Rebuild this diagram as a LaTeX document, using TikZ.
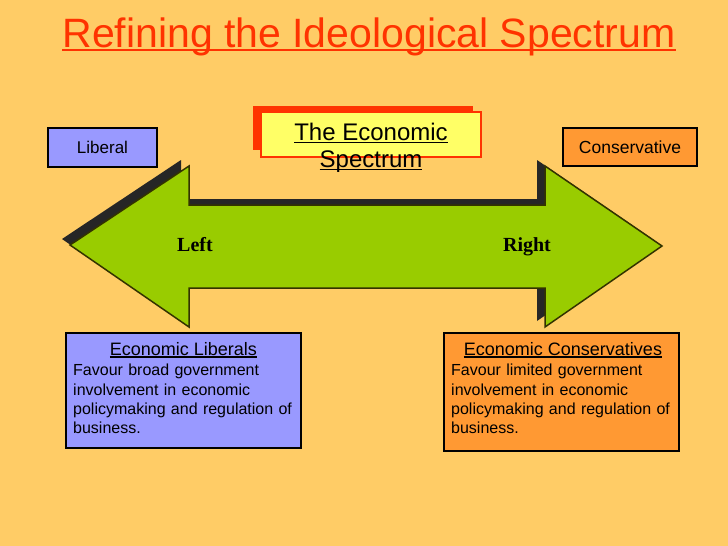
\documentclass[tikz,border=0pt]{standalone}
\usepackage{fontspec}
\setmainfont{Liberation Sans}
\newfontfamily\serifbold{Liberation Serif}[BoldFont={Liberation Serif Bold}]
\usetikzlibrary{positioning}
\definecolor{bgc}{RGB}{255,204,102}
\definecolor{titlered}{RGB}{255,51,0}
\definecolor{libblue}{RGB}{153,153,255}
\definecolor{conorange}{RGB}{255,153,51}
\definecolor{arrowgreen}{RGB}{153,204,0}
\definecolor{arrowedge}{RGB}{51,51,0}
\definecolor{boxyellow}{RGB}{255,255,102}
% underline at a fixed depth below the baseline
\newcommand\undl[3]{\setbox0\hbox{#3}\rlap{\rule[-#1]{\wd0}{#2}}\box0}
\tikzset{
  sidebox/.style={draw=black, line width=1.6pt, inner sep=0pt},
  infobox/.style={draw=black, line width=1.8pt, inner sep=0pt},
  bodytext/.style={anchor=north west, inner sep=0pt, text width=230pt, align=left,
    font=\fontsize{16}{19.4}\selectfont},
  headtext/.style={anchor=base, inner sep=0pt, font=\fontsize{18}{20}\selectfont},
  dirlabel/.style={anchor=base, inner sep=0pt, font=\serifbold\bfseries\fontsize{20}{22}\selectfont}
}
\begin{document}
\begin{tikzpicture}[x=1pt,y=-1pt]
\useasboundingbox (0,0) rectangle (728,546);
\fill[bgc] (0,0) rectangle (728,546);
% title
\node[anchor=base, inner sep=0pt, text=titlered, font=\fontsize{41}{42}\selectfont] (title) at (369,47)
  {\undl{4pt}{2.4pt}{Refining the Ideological Spectrum}};
% double arrow with shadow
\fill[black!85] (62,239) -- (181,160) -- (181,199) -- (537,199) -- (537,160) -- (654,240)
  -- (537,321) -- (537,282) -- (181,282) -- (181,321) -- cycle;
\filldraw[fill=arrowgreen, draw=arrowedge, line width=1.5pt]
  (70,245) -- (189,166) -- (189,205) -- (545,205) -- (545,166) -- (662,246)
  -- (545,327) -- (545,288) -- (189,288) -- (189,327) -- cycle;
\node[dirlabel] (left) at (195,251) {Left};
\node[dirlabel] (right) at (527,251) {Right};
% side labels
\node[sidebox, fill=libblue, minimum width=109pt, minimum height=39pt,
  font=\fontsize{17}{18}\selectfont] (liberal) at (102.5,147.5) {Liberal};
\node[sidebox, fill=conorange, minimum width=134pt, minimum height=38pt,
  font=\fontsize{17.5}{18}\selectfont] (conservative) at (630,147) {Conservative};
% heading box
\fill[titlered] (253,106) rectangle (473,150);
\filldraw[fill=boxyellow, draw=titlered, line width=2pt] (261,112) rectangle (481,157);
\node[anchor=base, inner sep=0pt, font=\fontsize{24}{27}\selectfont] (spectrum) at (371,140)
  {\undl{3pt}{1.4pt}{The Economic}};
\node[anchor=base, inner sep=0pt, font=\fontsize{24}{27}\selectfont] (spectrum2) at (371,167)
  {\undl{3pt}{1.4pt}{Spectrum}};
% lower boxes
\node[infobox, fill=libblue, minimum width=235pt, minimum height=115pt] (libbox) at (183.5,390.5) {};
\node[headtext] (libhead) at (183.5,355) {\undl{2.5pt}{1.4pt}{Economic Liberals}};
\node[bodytext] (libbody) at (73,364)
  {Favour broad government\\ involvement in economic\\ policymaking and regulation of\\ business.};
\node[infobox, fill=conorange, minimum width=235pt, minimum height=118pt] (conbox) at (561.5,392) {};
\node[headtext] (conhead) at (563,355) {\undl{2.5pt}{1.4pt}{Economic Conservatives}};
\node[bodytext] (conbody) at (451,364)
  {Favour limited government\\ involvement in economic\\ policymaking and regulation of\\ business.};
\end{tikzpicture}
\end{document}
